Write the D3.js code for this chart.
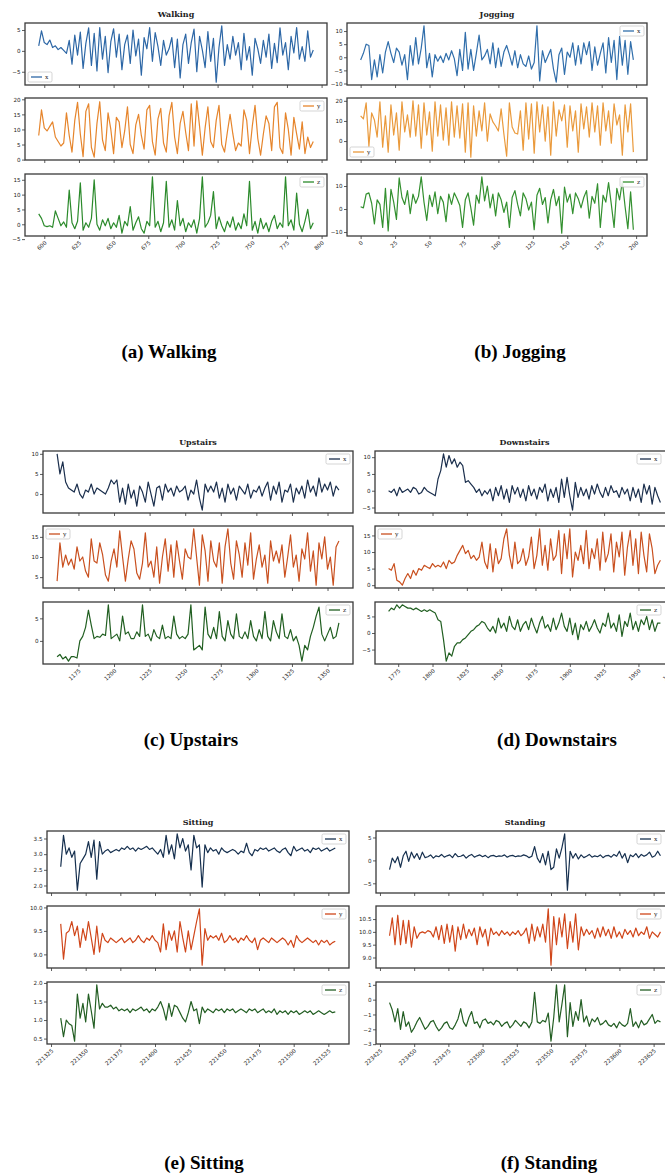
<!DOCTYPE html>
<html>
<head>
<meta charset="utf-8">
<script src="https://cdn.jsdelivr.net/npm/d3@7"></script>
<style>
  body { margin: 0; background: #fff; }
  svg { display: block; }
  .tick text { font-family: "DejaVu Sans", sans-serif; font-size: 5.6px; fill: #222; }
  .tick line { stroke: #333; stroke-width: 0.8px; }
  .ptitle { font-family: "DejaVu Serif", serif; font-weight: bold; font-size: 8px; fill: #222; }
  .legend text { font-family: "DejaVu Serif", serif; font-size: 6px; fill: #222; }
  .caption { font-family: "Liberation Serif", "Times New Roman", serif; font-weight: bold; font-size: 19px; fill: #000; }
</style>
</head>
<body>
<svg id="fig" width="665" height="1174"></svg>
<script>
// first sample index of every recording, samples are plotted every 2nd index
const walkingStart = 596, joggingStart = 0, upstairsStart = 1160,
      downstairsStart = 1768, sittingStart = 221332, standingStart = 223432;
const sampleStep = 2;

const walkingX = [1.2,4.8,2.0,1.5,2.6,0.8,1.2,0.3,0.8,0.1,
  -0.6,2.5,-3.2,3.8,-1.0,4.5,-4.2,1.8,5.5,-3.5,
  4.2,-4.8,5.6,-2.0,3.5,-5.2,2.2,5.3,-1.5,4.0,
  -4.5,1.5,3.8,-3.0,5.0,-1.2,2.8,-5.8,3.2,0.5,
  5.6,-2.5,4.4,1.0,-3.5,2.5,-1.0,0.5,3.2,-4.0,
  2.8,-6.5,1.5,4.0,-3.0,2.0,5.2,-5.0,3.5,0.2,
  -4.0,4.6,-2.5,3.0,-7.5,0.8,6.0,-3.5,1.5,-2.0,
  3.5,-1.0,2.0,-4.5,4.2,-2.2,1.0,-5.8,3.0,0.5,
  -3.0,2.5,-1.5,4.0,-4.2,1.8,-2.8,5.5,-1.0,2.0,
  -4.5,3.5,-0.5,5.6,-2.0,1.0,-2.5,4.8,-1.5,0.2];
const walkingY = [8.0,16.5,10.5,9.5,11.0,12.5,7.5,6.0,4.5,5.5,
  15.5,8.0,2.5,13.0,19.0,8.5,1.0,16.0,18.5,4.0,
  0.8,12.0,19.2,6.5,3.0,15.5,10.0,2.0,14.0,12.5,
  4.0,9.5,17.5,5.0,2.0,11.5,15.0,8.0,3.5,16.5,
  18.0,6.0,1.5,13.5,17.0,5.5,2.5,14.5,19.0,7.5,
  2.0,12.0,16.0,9.0,3.0,18.5,4.5,19.5,11.0,1.5,
  10.5,17.5,6.0,4.0,13.0,18.0,5.0,2.5,9.0,15.0,
  8.5,3.0,5.5,4.5,16.5,13.0,2.0,11.0,18.0,7.0,
  1.5,8.5,14.5,12.0,3.0,17.5,19.0,4.0,2.0,15.5,
  10.0,1.5,14.0,8.5,3.5,12.5,2.0,7.5,4.0,6.0];
const walkingZ = [3.5,2.0,-0.5,-0.8,-0.5,-1.0,4.5,2.0,-0.5,0.8,
  -1.0,11.5,0.5,-1.5,1.0,14.0,-2.0,0.5,-1.0,2.0,
  15.0,0.0,-2.0,1.5,-0.5,2.0,-1.5,0.5,-1.0,3.0,
  -3.0,1.0,-0.5,6.0,-2.0,0.5,2.5,-1.5,-3.0,1.0,
  -0.5,16.0,-1.0,1.0,-2.5,0.5,14.5,-1.0,1.5,-2.0,
  8.0,-0.5,2.0,-2.5,0.5,-1.0,1.5,-3.0,2.0,16.0,
  -1.0,0.5,3.0,11.0,-1.5,2.5,-0.5,-2.5,1.0,-1.0,
  2.5,-2.0,0.5,-1.5,3.5,-0.5,14.5,-2.0,1.0,-3.0,
  2.0,-1.5,0.5,-2.5,1.0,3.0,-1.5,0.5,-1.0,16.0,
  -0.5,1.5,-2.0,10.5,0.0,-2.5,1.0,5.0,-1.5,0.5];

const joggingX = [-1.0,1.5,5.0,4.5,-8.5,-1.0,-7.5,1.0,-6.0,2.0,
  6.0,1.5,-2.0,3.5,2.0,-3.0,1.0,-8.5,4.5,-3.0,
  7.5,-2.5,3.5,12.0,-4.0,1.5,-7.5,1.0,-1.5,0.5,
  -2.0,1.5,-1.0,2.5,-0.5,-7.0,3.0,-5.0,9.5,-4.5,
  3.0,-5.0,1.5,8.5,-1.0,0.5,3.0,-2.5,5.5,-4.0,
  3.5,-3.5,2.0,4.5,1.0,-3.0,2.5,-4.0,1.0,-2.5,
  -3.5,0.5,-4.5,-2.0,12.0,-9.0,2.5,-2.0,0.5,3.0,
  -4.5,-9.5,1.0,3.5,-6.5,2.0,0.0,5.5,-3.0,4.5,
  -2.5,5.5,1.0,6.0,-5.0,4.0,-3.0,1.5,5.5,-6.0,
  7.5,-2.0,6.5,-8.5,8.0,-3.0,6.5,-6.5,6.0,-1.0];
const joggingY = [12.5,11.0,19.0,-2.5,14.0,10.5,2.0,19.5,-3.0,12.5,
  -5.5,18.0,3.0,14.0,-4.5,19.5,4.5,13.0,2.0,20.0,
  2.5,18.0,-3.5,19.0,3.0,14.5,-5.0,19.5,2.5,18.0,
  0.5,16.5,-2.0,19.5,2.0,17.5,1.5,18.5,-5.5,19.0,
  -8.0,17.5,2.5,15.0,5.0,19.0,0.0,13.5,9.5,7.5,
  5.0,16.0,3.5,-7.5,19.0,7.0,4.0,3.5,15.0,-4.5,
  19.0,1.0,18.5,-6.0,19.5,4.5,18.0,0.0,17.0,-7.0,
  19.5,2.5,15.5,10.0,18.0,-3.0,17.5,5.0,15.0,-5.5,
  18.5,6.0,17.0,2.0,19.0,4.5,17.5,-2.0,19.0,5.0,
  15.0,-1.0,18.5,8.0,13.0,-7.0,18.0,4.5,18.5,-5.5];
const joggingZ = [1.0,0.5,6.5,7.0,2.5,-6.5,4.0,2.0,-8.0,9.0,
  -9.5,8.5,3.0,-4.5,13.5,5.0,2.0,8.0,-2.0,6.5,
  2.5,5.5,14.0,3.0,-5.0,6.0,1.0,7.5,-2.0,5.5,
  3.0,-5.5,6.5,2.0,7.0,4.5,1.5,-8.0,4.0,7.0,
  0.5,-7.0,6.0,2.5,14.0,3.5,10.0,0.5,6.5,-3.0,
  7.0,4.0,-1.5,3.0,-8.0,5.0,8.0,2.0,-3.0,7.0,
  4.5,-0.5,3.0,-9.0,6.0,9.0,2.0,5.0,-6.0,4.0,
  8.5,1.5,5.5,-10.5,9.5,3.0,6.5,-2.0,7.0,4.5,
  0.5,5.0,8.0,-4.0,5.5,2.5,11.0,-8.0,6.0,3.0,
  11.5,2.0,-8.0,9.0,4.0,12.0,1.0,-8.5,7.5,-9.0];

const upstairsX = [10.0,5.0,8.0,3.0,1.5,1.0,0.5,2.5,0.0,-1.0,
  1.0,0.5,2.5,0.0,1.5,1.0,0.5,0.0,1.5,3.5,
  2.5,3.5,-2.0,1.5,-2.5,2.5,-1.0,1.0,-3.0,2.0,
  0.5,-2.0,3.0,0.0,-3.0,1.5,2.0,-1.5,2.5,0.5,
  1.5,-0.5,2.0,0.5,1.0,2.0,-1.5,1.0,0.0,3.5,
  -1.0,-4.0,2.5,0.5,2.0,0.5,3.0,-1.0,1.5,-2.0,
  2.5,0.0,1.5,-1.5,2.0,1.0,0.0,2.5,-1.0,1.0,
  0.5,2.0,-0.5,1.5,3.0,-1.5,2.0,0.0,3.0,-2.0,
  1.0,0.5,2.5,-2.0,1.5,0.0,2.0,-1.0,3.5,0.5,
  2.0,-0.5,4.0,0.5,2.5,1.0,3.0,-0.5,2.0,1.0];
const upstairsY = [4.0,13.5,7.5,10.5,8.0,9.5,7.0,12.5,9.0,10.0,
  6.5,5.0,14.5,9.0,8.5,13.5,10.5,5.5,4.0,9.0,
  12.0,7.5,16.5,10.0,4.0,9.5,14.0,12.0,6.0,4.5,
  8.5,16.0,7.5,9.0,5.0,12.5,3.5,10.0,14.5,6.5,
  13.0,5.0,14.0,9.0,4.5,12.0,10.0,9.5,17.0,10.0,
  3.0,15.5,11.5,4.0,14.0,9.0,7.5,13.5,3.5,12.5,
  17.0,8.5,4.5,14.0,10.5,5.0,13.5,8.0,16.0,4.5,
  9.5,13.0,7.5,10.5,3.5,14.0,9.0,11.5,8.5,13.0,
  5.0,10.0,15.5,7.5,10.5,4.0,12.0,9.5,16.0,6.5,
  11.5,3.0,13.5,9.5,15.0,7.0,10.0,3.0,12.5,14.0];
const upstairsZ = [-3.5,-3.0,-4.0,-3.5,-4.5,-3.5,-3.5,-3.8,0.0,1.0,
  3.0,6.8,3.5,0.5,1.0,0.8,1.5,1.2,8.0,0.5,
  1.0,1.5,0.0,5.5,1.5,2.0,0.5,0.5,2.0,1.0,
  8.0,1.0,1.5,0.0,2.5,1.0,0.5,3.5,0.5,1.0,
  0.5,5.5,1.5,0.5,1.0,0.5,1.5,8.0,-2.0,-1.5,
  -1.0,-2.0,7.5,1.5,0.5,3.0,0.5,6.5,1.0,0.0,
  4.5,1.5,0.5,6.0,1.0,0.5,2.0,0.5,4.5,1.0,
  0.0,2.5,0.5,6.5,1.0,0.0,4.5,2.0,0.5,6.0,
  1.0,0.5,2.5,0.0,1.0,-1.0,-4.5,-1.0,-2.0,1.0,
  3.0,5.5,7.5,1.5,0.0,1.5,3.0,0.5,1.0,4.0];

const downstairsX = [0.0,-0.5,0.5,-1.5,1.0,-0.5,0.0,0.5,-0.5,1.0,
  0.5,-1.0,-0.5,1.0,0.0,-0.5,-1.0,-1.5,3.5,6.0,
  11.0,7.0,10.5,8.0,9.5,7.0,8.5,7.5,2.5,3.0,
  2.0,1.0,-0.5,0.5,-1.5,0.0,-1.0,0.5,-3.0,1.0,
  -1.5,1.5,-2.5,0.5,-3.5,1.5,-1.0,1.0,-2.0,0.5,
  -3.0,1.5,-1.5,0.5,-2.5,1.0,-0.5,2.0,-3.0,0.5,
  -2.0,1.0,-3.5,3.5,-2.0,4.0,-1.5,-5.8,2.5,-2.0,
  1.0,-1.5,0.5,-2.5,1.5,-1.0,2.0,-0.5,-2.0,1.0,
  -1.5,1.5,-0.5,0.0,-2.0,1.0,-1.0,0.5,-3.0,1.0,
  -2.0,0.5,-3.5,2.0,-1.0,1.5,-4.0,1.0,-1.5,-3.5];
const downstairsY = [5.0,4.5,6.5,1.5,1.0,0.0,2.0,3.5,2.0,4.5,
  3.0,5.0,4.5,6.0,5.5,5.0,6.5,5.5,6.0,5.5,
  7.0,5.0,7.5,6.5,7.0,9.0,10.5,12.0,9.5,10.5,
  8.0,9.0,7.5,8.5,13.0,7.0,5.0,12.5,4.0,11.0,
  6.5,8.0,14.0,17.0,9.0,5.0,13.0,6.5,7.5,11.0,
  6.0,8.5,14.5,5.0,9.0,17.0,6.0,12.0,4.5,14.0,
  7.5,9.0,16.5,3.5,15.5,8.0,17.0,2.5,10.0,7.5,
  12.0,6.5,16.5,5.0,11.0,8.0,14.0,4.5,16.0,7.0,
  9.5,15.5,4.0,13.0,8.5,16.0,3.0,11.5,16.5,6.0,
  14.0,3.5,16.0,9.0,4.0,15.5,11.0,3.5,6.0,7.5];
const downstairsZ = [6.5,7.5,7.0,8.5,7.5,8.5,8.0,7.5,7.5,7.0,
  7.5,7.0,6.5,7.0,6.5,7.0,6.5,6.0,4.0,3.5,
  -2.0,-8.5,-6.0,-7.0,-4.0,-3.0,-3.0,-2.0,-1.5,-0.5,
  0.5,1.0,2.0,2.5,3.5,3.0,1.5,0.5,2.0,0.0,
  4.5,1.5,3.0,0.5,5.0,2.0,1.0,4.0,0.5,2.5,
  3.5,1.0,4.5,2.0,0.0,3.0,5.0,1.5,2.5,0.5,
  4.5,1.0,3.0,6.0,2.0,0.5,4.5,-0.5,3.0,-2.0,
  2.5,1.0,3.5,0.5,2.0,4.0,1.5,0.0,3.0,2.0,
  6.0,1.5,3.0,0.5,5.5,-1.0,3.5,2.0,6.0,1.0,
  3.5,0.5,4.0,2.5,5.0,1.0,4.0,0.5,3.0,3.0];

const sittingX = [2.6,3.6,3.0,3.2,2.9,3.1,1.85,2.7,2.85,3.0,
  3.4,2.9,3.45,2.2,3.4,3.0,3.1,3.15,3.05,3.1,
  3.15,3.1,3.2,3.15,3.25,3.15,3.2,3.1,3.2,3.15,
  3.2,3.25,3.15,3.2,3.1,3.0,3.15,2.9,3.6,3.0,
  3.3,2.85,3.65,3.2,3.5,3.1,3.3,2.5,3.6,3.2,
  3.3,1.95,3.3,3.05,3.2,3.1,3.15,3.0,3.2,3.1,
  3.05,3.1,3.15,3.1,3.0,3.1,3.05,3.35,3.05,2.95,
  3.15,3.1,3.2,3.15,3.2,3.1,3.15,3.2,3.1,3.05,
  3.15,3.2,3.05,2.95,3.25,3.1,3.15,3.2,3.1,3.15,
  3.05,3.2,3.15,3.2,3.1,3.15,3.2,3.1,3.15,3.2];
const sittingY = [9.65,8.9,9.45,9.5,9.7,9.4,9.6,9.15,9.55,9.3,
  9.7,9.35,9.0,9.6,9.05,9.45,9.3,9.25,9.35,9.3,
  9.25,9.3,9.35,9.25,9.3,9.35,9.25,9.3,9.4,9.3,
  9.25,9.35,9.3,9.4,9.3,9.25,9.05,9.65,9.1,9.5,
  9.3,9.5,9.05,9.7,9.35,9.05,9.5,9.1,9.4,9.7,
  9.97,8.77,9.55,9.3,9.4,9.35,9.4,9.3,9.45,9.25,
  9.3,9.4,9.3,9.35,9.25,9.35,9.3,9.4,9.3,9.25,
  9.35,9.1,9.3,9.35,9.3,9.25,9.35,9.3,9.25,9.3,
  9.35,9.3,9.2,9.3,9.15,9.4,9.3,9.25,9.3,9.35,
  9.3,9.25,9.3,9.2,9.3,9.25,9.3,9.2,9.25,9.28];
const sittingZ = [1.05,0.55,1.0,0.9,0.85,0.43,1.7,1.05,1.45,0.95,
  1.7,1.25,0.78,1.95,1.3,1.45,1.35,1.35,1.4,1.3,
  1.35,1.25,1.3,1.25,1.3,1.2,1.3,1.25,1.3,1.35,
  1.25,1.3,1.2,1.3,1.25,1.35,1.5,1.3,1.0,1.45,
  1.1,1.4,1.35,1.2,1.05,0.95,1.2,1.5,1.25,1.3,
  0.9,1.35,1.2,1.3,1.25,1.2,1.3,1.25,1.3,1.2,
  1.3,1.25,1.3,1.2,1.25,1.3,1.25,1.2,1.3,1.25,
  1.3,1.2,1.25,1.3,1.2,1.25,1.2,1.3,1.15,1.25,
  1.2,1.25,1.15,1.25,1.2,1.25,1.15,1.2,1.25,1.2,
  1.25,1.15,1.2,1.25,1.2,1.15,1.2,1.25,1.2,1.22];

const standingX = [-2.0,0.5,-0.5,0.8,-1.5,1.0,2.0,-0.2,1.8,0.5,
  1.5,0.2,1.8,0.6,0.8,1.2,0.5,1.0,0.8,1.3,
  0.7,1.0,1.2,0.6,1.5,0.8,0.9,1.2,0.5,1.0,
  1.3,0.7,1.0,1.2,0.8,1.1,0.6,1.0,1.1,0.8,
  1.0,0.9,1.2,0.7,1.0,1.1,0.8,1.0,0.9,1.2,
  1.0,0.6,0.9,3.0,0.5,-0.5,1.5,-1.0,2.0,-2.0,
  -1.5,2.5,0.5,2.8,5.8,-6.5,2.0,0.5,1.5,0.3,
  1.2,0.6,0.9,1.3,0.7,1.0,0.8,1.2,0.6,1.0,
  1.1,0.7,1.3,0.9,2.0,0.5,1.5,-0.5,1.2,0.8,
  1.5,0.6,1.3,0.9,1.2,1.8,0.7,1.0,2.0,1.0];
const standingY = [9.85,10.55,9.5,10.65,9.5,10.45,9.55,10.45,9.4,10.2,
  9.75,9.95,10.0,9.95,10.05,10.0,9.8,10.2,9.7,10.25,
  9.55,10.3,9.6,10.25,9.25,10.2,9.7,10.3,9.75,10.1,
  9.85,10.15,9.5,10.2,9.8,10.1,9.45,10.15,9.9,10.0,
  9.85,10.05,9.9,10.0,9.85,10.0,9.9,10.05,9.85,9.95,
  10.15,9.55,10.3,9.65,10.2,9.8,10.3,9.6,10.9,8.7,
  10.6,9.5,10.55,9.8,10.7,9.35,10.4,9.6,10.7,9.3,
  10.2,9.85,10.1,9.9,10.05,9.75,10.15,9.8,10.2,9.85,
  10.1,9.75,10.2,9.8,10.0,9.75,10.1,9.9,10.05,9.8,
  10.15,9.85,10.0,9.9,10.2,9.75,10.0,9.9,9.8,10.0];
const standingZ = [-0.2,-0.7,-1.5,-0.6,-2.0,-0.8,-1.8,-1.5,-2.2,-1.9,
  -1.5,-1.2,-1.6,-2.0,-1.8,-1.5,-1.4,-1.8,-2.1,-1.9,
  -1.6,-1.5,-1.9,-2.0,-1.7,-1.3,-0.6,-1.5,-1.8,-1.2,
  -0.8,-1.6,-1.5,-1.9,-1.4,-1.3,-1.6,-1.5,-1.7,-1.4,
  -1.5,-1.8,-1.6,-1.5,-1.9,-1.7,-1.4,-1.6,-1.8,-1.5,
  -1.6,-1.9,-1.5,0.5,-1.5,-1.6,-1.4,-1.5,-0.9,-2.8,
  -1.2,1.0,-1.5,-0.3,1.0,-2.5,-0.2,-1.8,-0.8,-1.4,
  0.0,-1.5,-1.1,-1.8,-1.3,-1.5,-1.2,-1.7,-1.6,-1.4,
  -1.7,-1.8,-1.6,-1.9,-1.5,-1.7,-1.8,-1.6,-0.6,-1.8,
  -1.5,-1.9,-1.4,-1.7,-1.6,-1.3,-1.0,-1.6,-1.4,-1.5];

// x tick labels
const walkingTicks = [600,625,650,675,700,725,750,775,800];
const joggingTicks = [0,25,50,75,100,125,150,175,200];
const upstairsTicks = [1175,1200,1225,1250,1275,1300,1325,1350];
const downstairsTicks = [1775,1800,1825,1850,1875,1900,1925,1950,1975];
const sittingTicks = [221325,221350,221375,221400,221425,221450,221475,221500,221525];
const standingTicks = [223425,223450,223475,223500,223525,223550,223575,223600,223625];

// y tick labels (x, y, z subplot)
const walkingYTicks = [[-5,0,5],[0,5,10,15,20],[-5,0,5,10,15]];
const joggingYTicks = [[-10,-5,0,5,10],[0,10,20],[-10,0,10]];
const upstairsYTicks = [[0,5,10],[5,10,15],[0,5]];
const downstairsYTicks = [[-5,0,5,10],[0,5,10,15],[-5,0,5]];
const sittingYTicks = [[2.0,2.5,3.0,3.5],[9.0,9.5,10.0],[0.5,1.0,1.5,2.0]];
const standingYTicks = [[-5,0,5],[9.0,9.5,10.0,10.5],[-3,-2,-1,0,1]];

const axisNames = ["x", "y", "z"];

const W = 665;
const svg = d3.select("#fig");
const subTops = [0, 75, 151];
const subH = 62;
const intF = d3.format("d"), decF = d3.format(".1f");

const panels = [
  {title: "Walking", caption: "(a) Walking", start: walkingStart, series: [walkingX, walkingY, walkingZ],
   xTicks: walkingTicks, yTicks: walkingYTicks, fmts: [intF, intF, intF],
   left: 25, right: 327, top: 23, capX: 169, capY: 358,
   colors: ["#2d67a6", "#e6852c", "#2b8a2b"], legends: ["ll", "ur", "ur"]},
  {title: "Jogging", caption: "(b) Jogging", start: joggingStart, series: [joggingX, joggingY, joggingZ],
   xTicks: joggingTicks, yTicks: joggingYTicks, fmts: [intF, intF, intF],
   left: 347, right: 647, top: 23, capX: 520, capY: 358,
   colors: ["#306eab", "#ea9a3c", "#33902f"], legends: ["ur", "ll", "ur"]},
  {title: "Upstairs", caption: "(c) Upstairs", start: upstairsStart, series: [upstairsX, upstairsY, upstairsZ],
   xTicks: upstairsTicks, yTicks: upstairsYTicks, fmts: [intF, intF, intF],
   left: 43, right: 353, top: 451, capX: 191, capY: 746,
   colors: ["#1b2f4d", "#c9501f", "#215f21"], legends: ["ur", "ul", "ur"]},
  {title: "Downstairs", caption: "(d) Downstairs", start: downstairsStart, series: [downstairsX, downstairsY, downstairsZ],
   xTicks: downstairsTicks, yTicks: downstairsYTicks, fmts: [intF, intF, intF],
   left: 375, right: 674, top: 451, capX: 557, capY: 746,
   colors: ["#1b2f4d", "#c9501f", "#215f21"], legends: ["ur", "ul", "ur"]},
  {title: "Sitting", caption: "(e) Sitting", start: sittingStart, series: [sittingX, sittingY, sittingZ],
   xTicks: sittingTicks, yTicks: sittingYTicks, fmts: [decF, decF, decF],
   left: 47, right: 349, top: 831, capX: 204, capY: 1169,
   colors: ["#16304f", "#d0461a", "#235e23"], legends: ["ur", "ur", "ur"]},
  {title: "Standing", caption: "(f) Standing", start: standingStart, series: [standingX, standingY, standingZ],
   xTicks: standingTicks, yTicks: standingYTicks, fmts: [intF, decF, intF],
   left: 376, right: 674, top: 831, capX: 549, capY: 1169,
   colors: ["#16304f", "#d0461a", "#235e23"], legends: ["ur", "ur", "ur"]}
];

// matplotlib style 5% margins
function padExtent(ext) {
  const pad = (ext[1] - ext[0]) * 0.05;
  return [ext[0] - pad, ext[1] + pad];
}

function drawPanel(p) {
  const n = p.series[0].length;
  const x = d3.scaleLinear()
    .domain(padExtent([p.start, p.start + sampleStep * (n - 1)]))
    .range([p.left, p.right]);

  svg.append("text").attr("class", "ptitle")
    .attr("x", (p.left + p.right) / 2).attr("y", p.top - 6)
    .attr("text-anchor", "middle").text(p.title);

  p.series.forEach(function (vals, i) {
    const top = p.top + subTops[i];
    const y = d3.scaleLinear()
      .domain(padExtent(d3.extent(vals)))
      .range([top + subH, top]);
    const g = svg.append("g");

    const ya = d3.axisLeft(y).tickValues(p.yTicks[i]).tickSize(3).tickPadding(1.5).tickFormat(p.fmts[i]);
    g.append("g").attr("transform", "translate(" + p.left + ",0)").call(ya)
      .call(a => a.select(".domain").remove());

    const xa = d3.axisBottom(x).tickValues(p.xTicks).tickSize(3)
      .tickFormat(i === 2 ? intF : () => "");
    const xg = g.append("g").attr("transform", "translate(0," + (top + subH) + ")").call(xa);
    xg.select(".domain").remove();
    if (i === 2) {
      xg.selectAll("text")
        .attr("x", 0).attr("y", 0).attr("dy", "0.35em")
        .attr("text-anchor", "end")
        .attr("transform", "translate(1,6) rotate(-42)");
    }

    const line = d3.line()
      .x((d, k) => x(p.start + k * sampleStep))
      .y(d => y(d));
    g.append("path").datum(vals)
      .attr("d", line)
      .attr("fill", "none")
      .attr("stroke", p.colors[i])
      .attr("stroke-width", 1.2)
      .attr("stroke-linejoin", "round");

    g.append("rect")
      .attr("x", p.left).attr("y", top)
      .attr("width", p.right - p.left).attr("height", subH)
      .attr("fill", "none").attr("stroke", "#3a3a3a").attr("stroke-width", 1.3);

    // legend box, kept inside the visible page
    const pos = p.legends[i], lw = 24, lh = 10;
    const lx = pos[1] === "r" ? Math.min(p.right, W - 1) - 3 - lw : p.left + 3;
    const ly = pos[0] === "u" ? top + 3 : top + subH - 3 - lh;
    const lg = g.append("g").attr("class", "legend");
    lg.append("rect").attr("x", lx).attr("y", ly).attr("width", lw).attr("height", lh)
      .attr("rx", 1.5).attr("fill", "#fff").attr("fill-opacity", 0.85)
      .attr("stroke", "#bbb").attr("stroke-width", 0.6);
    lg.append("line").attr("x1", lx + 3).attr("x2", lx + 14)
      .attr("y1", ly + lh / 2).attr("y2", ly + lh / 2)
      .attr("stroke", p.colors[i]).attr("stroke-width", 1.3);
    lg.append("text").attr("x", lx + 17).attr("y", ly + lh / 2).attr("dy", "0.35em")
      .text(axisNames[i]);
  });

  svg.append("text").attr("class", "caption")
    .attr("x", p.capX).attr("y", p.capY)
    .attr("text-anchor", "middle").text(p.caption);
}

panels.forEach(drawPanel);
</script>
</body>
</html>
